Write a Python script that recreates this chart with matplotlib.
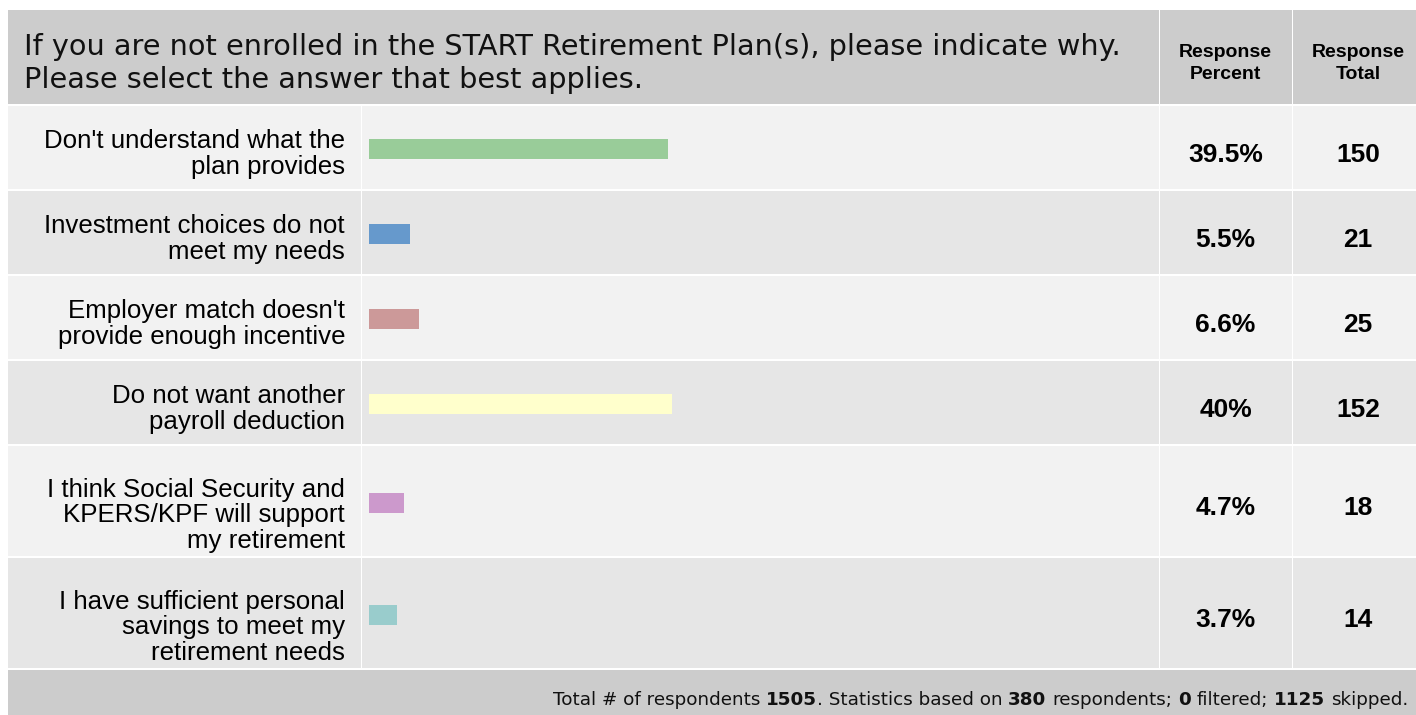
import matplotlib
matplotlib.use('Agg')
import matplotlib.pyplot as plt
from matplotlib.patches import Rectangle

plt.rcParams['font.family'] = ['Liberation Sans', 'DejaVu Sans']

# survey data
question = ('If you are not enrolled in the START Retirement Plan(s), please indicate why.\n'
            'Please select the answer that best applies.')
answers = ["Don't understand what the\nplan provides",
           "Investment choices do not\nmeet my needs",
           "Employer match doesn't\nprovide enough incentive",
           "Do not want another\npayroll deduction",
           "I think Social Security and\nKPERS/KPF will support\nmy retirement",
           "I have sufficient personal\nsavings to meet my\nretirement needs"]
percents = [39.5, 5.5, 6.6, 40, 4.7, 3.7]
pct_labels = ['39.5%', '5.5%', '6.6%', '40%', '4.7%', '3.7%']
totals = [150, 21, 25, 152, 18, 14]
bar_colors = ['#99cc99', '#6699cc', '#cc9999', '#ffffcc', '#cc99cc', '#99cccc']
n_total = 1505
n_based = 380
n_filtered = 0
n_skipped = 1125

# figure in pixel units
W, H = 1416, 715
fig = plt.figure(figsize=(W / 100, H / 100), dpi=100)
fig.patch.set_facecolor('white')
ax = fig.add_axes([0, 0, 1, 1])
ax.set_xlim(0, W)
ax.set_ylim(H, 0)
ax.axis('off')
renderer = fig.canvas.get_renderer()

# layout
header_col = '#cccccc'
row_cols = ['#f2f2f2', '#e6e6e6']
x_left, x_lab, x_bar, x_pct, x_right = 8, 360.5, 1158.5, 1291.5, 1425
gap = 1.5
cols = [(x_left, x_lab), (x_lab + gap, x_bar), (x_bar + gap, x_pct), (x_pct + gap, x_right)]
pct_cx = 1225.5
tot_cx = 1358

def cell(x0, x1, y0, y1, color):
    ax.add_patch(Rectangle((x0, y0), x1 - x0, y1 - y0, facecolor=color, edgecolor='none', zorder=0))

def lines(x, y0, text, step, **kw):
    # one text per line, baselines step px apart
    for k, ln in enumerate(text.split('\n')):
        ax.text(x, y0 + k * step, ln, va='baseline', **kw)

# header
hy0, hy1 = 10, 104
cell(x_left, x_bar, hy0, hy1, header_col)
cell(x_bar + gap, x_pct, hy0, hy1, header_col)
cell(x_pct + gap, x_right, hy0, hy1, header_col)
lines(24, 55, question, 33, fontsize=20.7, family='DejaVu Sans', color='#111111', ha='left')
lines(pct_cx, 57, 'Response\nPercent', 22, fontsize=14, fontweight='bold', ha='center')
lines(tot_cx, 57, 'Response\nTotal', 22, fontsize=14, fontweight='bold', ha='center')

# rows
centers = []
y = hy1 + gap
for i, lab in enumerate(answers):
    nlines = lab.count('\n') + 1
    h = 83.5 if nlines == 2 else 110.5
    for (c0, c1) in cols:
        cell(c0, c1, y, y + h, row_cols[i % 2])
    c = y + h / 2
    centers.append(c)
    lines(345, c + 1 - 5 * (nlines - 2), lab, 25.5, fontsize=18.6, ha='right')
    ax.text(pct_cx, c + 14.5, pct_labels[i], fontsize=19, fontweight='bold', ha='center', va='baseline')
    ax.text(tot_cx, c + 14.5, str(totals[i]), fontsize=19, fontweight='bold', ha='center', va='baseline')
    y += h + gap

# footer, pieces laid out right to left
cell(x_left, x_right, y, H + 5, header_col)
fs = 13.2
sp_w = 0.318 * fs * 100 / 72
pieces = [('Total # of respondents ', False), (str(n_total), True),
          ('. Statistics based on ', False), (str(n_based), True),
          (' respondents; ', False), (str(n_filtered), True),
          (' filtered; ', False), (str(n_skipped), True),
          (' skipped.', False)]
x = 1408
for txt, bold in reversed(pieces):
    if txt.endswith(' '):
        x -= sp_w
    t = ax.text(x, 705, txt.strip(), fontsize=fs, family='DejaVu Sans', ha='right', va='baseline',
                fontweight='bold' if bold else 'normal', color='#111111')
    x -= t.get_window_extent(renderer).width
    if txt.startswith(' '):
        x -= sp_w

# bars: 0% at x=368.7 px, 757 px for 100%
bax = fig.add_axes([368.7 / W, 0, 757 / W, 1])
bax.set_xlim(0, 100)
bax.set_ylim(H, 0)
bax.axis('off')
bax.patch.set_alpha(0)
bax.barh([c + 2 for c in centers], percents, height=20, color=bar_colors, edgecolor='none')

fig.savefig('out.png', dpi=100)
